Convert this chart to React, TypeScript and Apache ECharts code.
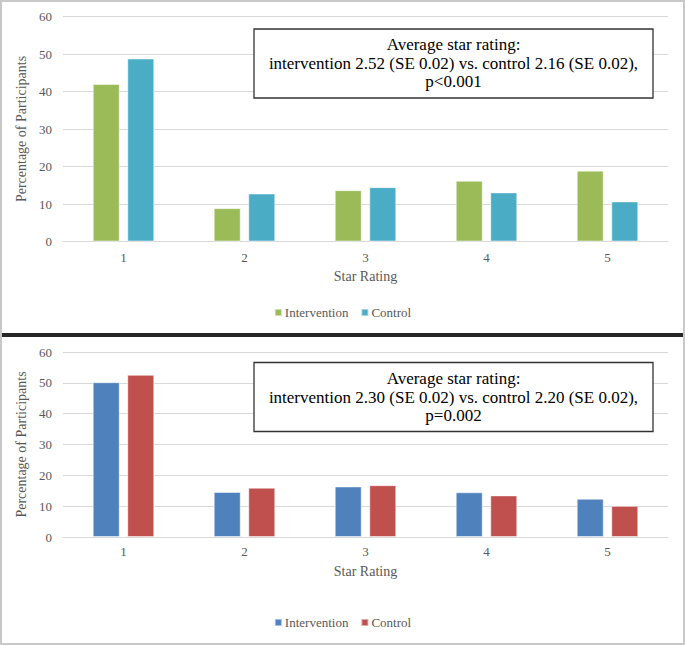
import React, { useEffect, useRef } from "react";
import * as echarts from "echarts";

const categories = ["1", "2", "3", "4", "5"];
const topIntervention = [42.0, 8.9, 13.7, 16.2, 18.9];
const topControl = [48.8, 12.8, 14.5, 13.1, 10.7];
const bottomIntervention = [50.2, 14.6, 16.4, 14.5, 12.4];
const bottomControl = [52.6, 16.0, 16.8, 13.5, 10.1];
const topNote = [
  "Average star rating:",
  "intervention 2.52 (SE 0.02) vs. control 2.16 (SE 0.02),",
  "p<0.001",
];
const bottomNote = [
  "Average star rating:",
  "intervention 2.30 (SE 0.02) vs. control 2.20 (SE 0.02),",
  "p=0.002",
];

const FONT = "Liberation Serif";
const GREY = "#595959";
const GRID_LINE = "#d9d9d9";

export default function App() {
  const ref = useRef<HTMLDivElement>(null);

  useEffect(() => {
    document.body.style.margin = "0";
    if (!ref.current) return;
    const chart = echarts.init(ref.current, null, { renderer: "svg" });

    const xAxisBase = (gridIndex: number, labelMargin: number, nameGap: number) => ({
      type: "category",
      gridIndex,
      data: categories,
      axisTick: { show: false },
      axisLine: { lineStyle: { color: GRID_LINE, width: 1 } },
      axisLabel: { color: GREY, fontSize: 13, fontFamily: FONT, margin: labelMargin },
      name: "Star Rating",
      nameLocation: "middle",
      nameGap,
      nameTextStyle: { color: GREY, fontSize: 14, fontFamily: FONT },
    });
    const yAxisBase = (gridIndex: number) => ({
      type: "value",
      gridIndex,
      min: 0,
      max: 60,
      interval: 10,
      axisLine: { show: false },
      axisTick: { show: false },
      splitLine: { lineStyle: { color: GRID_LINE, width: 1 } },
      axisLabel: { color: GREY, fontSize: 13, fontFamily: FONT, margin: 11 },
      name: "Percentage of Participants",
      nameLocation: "middle",
      nameGap: 22,
      nameTextStyle: { color: GREY, fontSize: 14, fontFamily: FONT },
    });

    const barBase = {
      type: "bar",
      barWidth: 27,
      barGap: "28%",
    };

    const noteGraphics = (lines: string[], boxTop: number, lineYs: number[]) => [
      {
        type: "rect",
        z: 100,
        shape: { x: 254, y: boxTop, width: 399, height: 69 },
        style: { fill: "#ffffff", stroke: "#333333", lineWidth: 1.3 },
      },
      ...lines.map((t, i) => ({
        type: "text",
        z: 101,
        x: 453.5,
        y: lineYs[i],
        style: {
          text: t,
          fill: "#000000",
          fontSize: 17,
          fontFamily: FONT,
          textAlign: "center",
          textVerticalAlign: "middle",
        },
      })),
    ];

    const legendBase = {
      left: "center",
      itemWidth: 7,
      itemHeight: 7,
      itemGap: 12,
      icon: "rect",
      textStyle: { color: GREY, fontSize: 13, fontFamily: FONT, padding: [0, 0, 0, -2] },
    };

    chart.setOption({
      animation: false,
      backgroundColor: "#ffffff",
      textStyle: { fontFamily: FONT },
      grid: [
        { left: 63, right: 17, top: 16.5, height: 225 },
        { left: 63, right: 17, top: 352, height: 185 },
      ],
      xAxis: [xAxisBase(0, 9, 28), xAxisBase(1, 8, 27)],
      yAxis: [yAxisBase(0), yAxisBase(1)],
      legend: [
        { ...legendBase, top: 301, data: ["Intervention", "Control"] },
        {
          ...legendBase,
          top: 611,
          data: ["Intervention2", "Control2"],
          formatter: (n: string) => n.replace("2", ""),
        },
      ],
      series: [
        {
          ...barBase,
          name: "Intervention",
          xAxisIndex: 0,
          yAxisIndex: 0,
          data: topIntervention,
          itemStyle: { color: "#9BBB59", borderColor: "rgba(255,255,255,0.5)", borderWidth: 1 },
        },
        {
          ...barBase,
          name: "Control",
          xAxisIndex: 0,
          yAxisIndex: 0,
          data: topControl,
          itemStyle: { color: "#4BACC6", borderColor: "rgba(255,255,255,0.5)", borderWidth: 1 },
        },
        {
          ...barBase,
          name: "Intervention2",
          xAxisIndex: 1,
          yAxisIndex: 1,
          data: bottomIntervention,
          itemStyle: { color: "#4F81BD", borderColor: "rgba(255,255,255,0.5)", borderWidth: 1 },
        },
        {
          ...barBase,
          name: "Control2",
          xAxisIndex: 1,
          yAxisIndex: 1,
          data: bottomControl,
          itemStyle: { color: "#C0504D", borderColor: "rgba(255,255,255,0.5)", borderWidth: 1 },
        },
      ],
      graphic: [
        ...noteGraphics(topNote, 29, [44.5, 63, 81.5]),
        ...noteGraphics(bottomNote, 362.5, [378.5, 397, 415.5]),
        {
          type: "rect",
          z: 90,
          shape: { x: 0, y: 333, width: 685, height: 4 },
          style: { fill: "#262626" },
        },
        {
          type: "rect",
          z: 90,
          shape: { x: 1, y: 1, width: 683, height: 643 },
          style: { fill: "none", stroke: "#c8c8c8", lineWidth: 2 },
        },
      ],
    });

    return () => chart.dispose();
  }, []);

  return <div ref={ref} style={{ width: 685, height: 645 }} />;
}
